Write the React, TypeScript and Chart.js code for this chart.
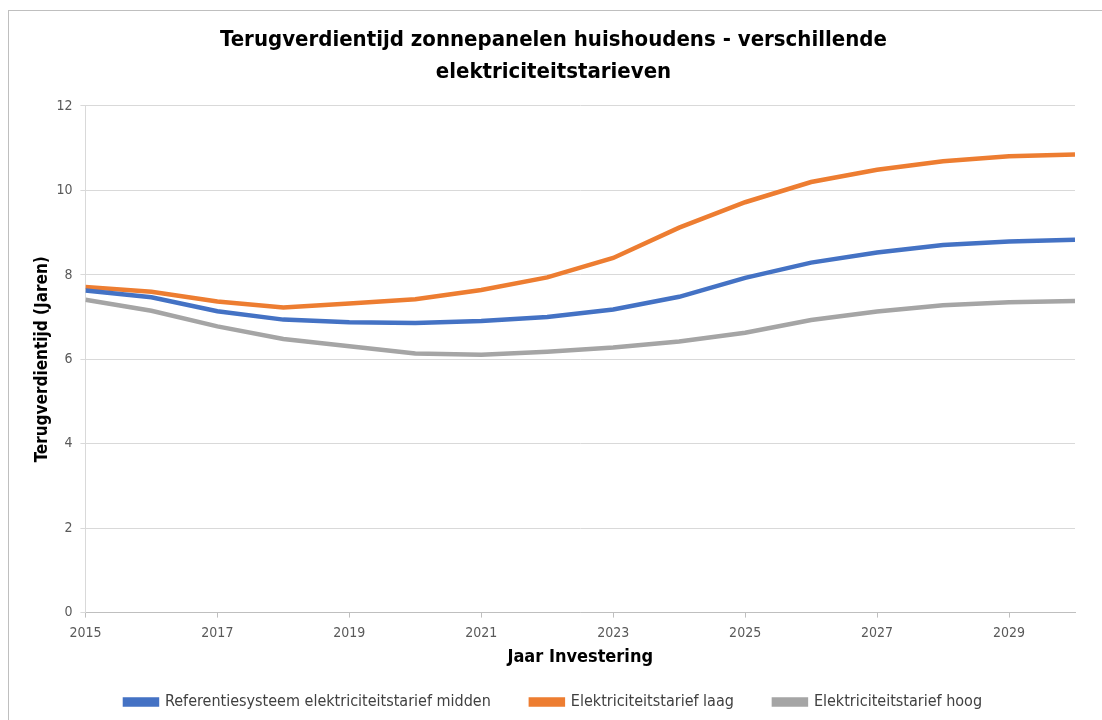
import React, { useEffect, useRef } from "react";
import { Chart, registerables } from "chart.js";

Chart.register(...registerables);

const years = [2015, 2016, 2017, 2018, 2019, 2020, 2021, 2022, 2023, 2024, 2025, 2026, 2027, 2028, 2029, 2030];
const referentieMidden = [7.63, 7.47, 7.14, 6.94, 6.88, 6.86, 6.91, 7.0, 7.18, 7.48, 7.93, 8.29, 8.53, 8.71, 8.79, 8.83];
const tariefLaag = [7.71, 7.6, 7.37, 7.23, 7.32, 7.42, 7.64, 7.94, 8.4, 9.12, 9.72, 10.2, 10.49, 10.69, 10.81, 10.85];
const tariefHoog = [7.41, 7.15, 6.78, 6.48, 6.31, 6.14, 6.11, 6.18, 6.28, 6.42, 6.63, 6.93, 7.13, 7.28, 7.35, 7.38];
const xTickYears = [2015, 2017, 2019, 2021, 2023, 2025, 2027, 2029];

const FONT = "'Liberation Sans Narrow', 'DejaVu Sans Condensed', 'Liberation Sans', sans-serif";

export default function App() {
  const ref = useRef<HTMLCanvasElement | null>(null);

  useEffect(() => {
    if (!ref.current) return;
    const toPts = (vals: number[]) => years.map((y, i) => ({ x: y, y: vals[i] }));
    const chart = new Chart(ref.current, {
      type: "line",
      data: {
        datasets: [
          {
            label: "Referentiesysteem elektriciteitstarief midden",
            data: toPts(referentieMidden),
            borderColor: "#4472C4",
            backgroundColor: "#4472C4",
            borderWidth: 4.5,
            pointRadius: 0,
            tension: 0,
          },
          {
            label: "Elektriciteitstarief laag",
            data: toPts(tariefLaag),
            borderColor: "#ED7D31",
            backgroundColor: "#ED7D31",
            borderWidth: 4.5,
            pointRadius: 0,
            tension: 0,
          },
          {
            label: "Elektriciteitstarief hoog",
            data: toPts(tariefHoog),
            borderColor: "#A5A5A5",
            backgroundColor: "#A5A5A5",
            borderWidth: 4.5,
            pointRadius: 0,
            tension: 0,
          },
        ],
      },
      options: {
        animation: false,
        responsive: false,
        maintainAspectRatio: false,
        layout: { padding: { left: 23, right: 32, top: 0, bottom: 1 } },
        plugins: {
          title: {
            display: true,
            text: ["Terugverdientijd zonnepanelen huishoudens - verschillende", "elektriciteitstarieven"],
            font: { family: FONT, size: 22, weight: "bold", lineHeight: 1.4545 },
            color: "#000000",
            padding: { top: 13, bottom: 18 },
          },
          legend: {
            position: "bottom",
            labels: {
              boxWidth: 32,
              boxHeight: 5,
              padding: 40,
              color: "#404040",
              font: { family: FONT, size: 16 },
            },
          },
          tooltip: { enabled: false },
        },
        scales: {
          x: {
            type: "linear",
            min: 2015,
            max: 2030,
            afterBuildTicks: (scale: any) => {
              scale.ticks = xTickYears.map((v) => ({ value: v }));
            },
            ticks: {
              color: "#595959",
              font: { family: FONT, size: 14 },
              padding: 7,
              maxRotation: 0,
              callback: (v: any) => String(v),
            },
            grid: { drawOnChartArea: false, drawTicks: true, tickLength: 5, color: "#bfbfbf" },
            border: { color: "#bfbfbf" },
            title: {
              display: true,
              text: "Jaar Investering",
              color: "#000000",
              font: { family: FONT, size: 18, weight: "bold" },
              padding: { top: -2, bottom: -14 },
            },
          },
          y: {
            min: 0,
            max: 12,
            ticks: {
              stepSize: 2,
              color: "#595959",
              font: { family: FONT, size: 14 },
              padding: 8,
            },
            grid: { color: "#d9d9d9", tickLength: 5 },
            border: { color: "#d9d9d9" },
            title: {
              display: true,
              text: "Terugverdientijd (Jaren)",
              color: "#000000",
              font: { family: FONT, size: 17, weight: "bold" },
              padding: { top: 0, bottom: -4 },
            },
          },
        },
      },
    });
    return () => chart.destroy();
  }, []);

  return (
    <div
      style={{
        position: "absolute",
        left: 8,
        top: 10,
        width: 1100,
        height: 720,
        border: "1px solid #bfbfbf",
        boxSizing: "border-box",
        background: "#fff",
      }}
    >
      <canvas ref={ref} width={1098} height={710} style={{ display: "block" }} />
    </div>
  );
}
